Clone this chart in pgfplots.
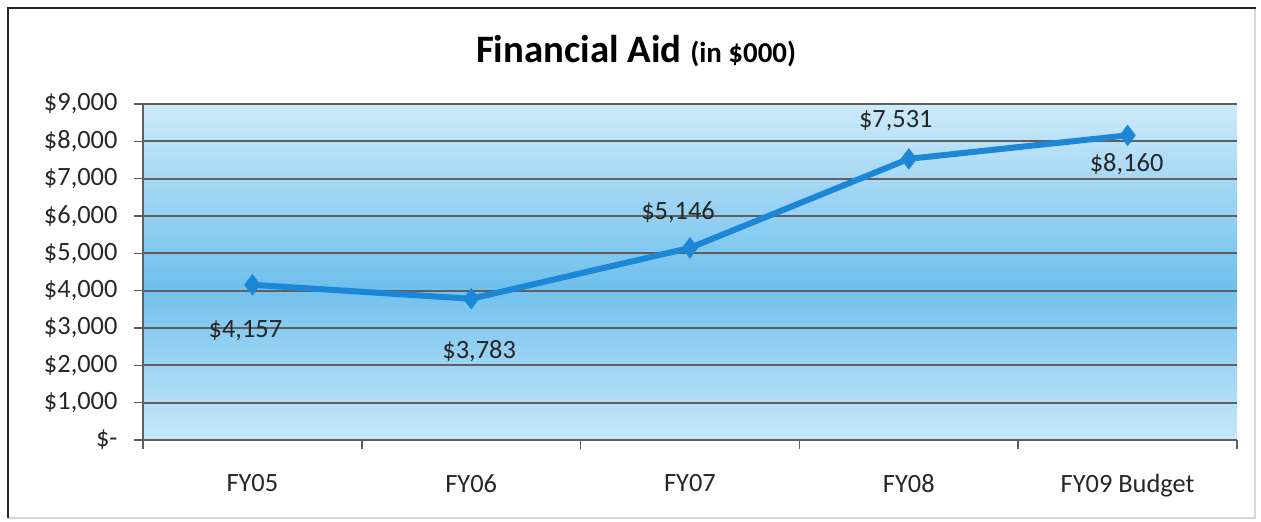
\documentclass[border=0pt]{standalone}
\usepackage{fontspec}
\setmainfont{Carlito}
\usepackage{pgfplots}
\pgfplotsset{compat=1.18}
\usepackage{pgfplotstable}

\definecolor{lineblue}{RGB}{27,135,214}
\definecolor{bgtop}{RGB}{205,234,250}
\definecolor{bgmid}{RGB}{112,192,236}
\definecolor{bgbot}{RGB}{200,232,249}
\definecolor{gridgray}{RGB}{95,95,95}
\definecolor{framegray}{RGB}{215,215,215}

% plot-area background: light at top and bottom, deeper blue in the middle
\pgfdeclareverticalshading{aidbg}{100bp}{
  color(0bp)=(bgbot); color(25bp)=(bgbot);
  color(48bp)=(bgmid);
  color(75bp)=(bgtop); color(100bp)=(bgtop)}

% financial aid by fiscal year (in $000); dx/dy place each value label
\pgfplotstableread{
x y dx dy
0 4157 -7 -46
1 3783 8 -52
2 5146 -12 36
3 7531 -13 38
4 8160 -1 -29
}\aiddata

\newcommand{\lbl}{\fontsize{26.5}{31}\selectfont}

\begin{document}
\begin{tikzpicture}
\useasboundingbox (0,0) rectangle (1261bp,522bp);
% outer frame
\draw[framegray, line width=1.5bp] (1255bp,514bp) -- (1255bp,4bp) -- (8bp,4bp);
\draw[black!85, line width=2.5bp] (8bp,4bp) -- (8bp,514bp) -- (1256bp,514bp);

\node[anchor=base] at (636bp,459bp)
  {\fontsize{39}{46}\selectfont\bfseries Financial Aid {\fontsize{29}{35}\selectfont (in \$000)}};

\begin{axis}[
  at={(143bp,82bp)}, anchor=south west,
  scale only axis, width=1094bp, height=336bp,
  xmin=-0.5, xmax=4.5, ymin=0, ymax=9000,
  axis x line*=bottom, axis y line*=left,
  axis line style={gridgray, line width=1.5bp, -},
  axis background/.style={shading=aidbg},
  xtick={-0.5,0.5,...,4.5},
  x tick label as interval,
  xticklabels={FY05,FY06,FY07,FY08,FY09 Budget},
  ytick={0,1000,...,9000},
  yticklabels={{\$-},{\$1,000},{\$2,000},{\$3,000},{\$4,000},{\$5,000},{\$6,000},{\$7,000},{\$8,000},{\$9,000}},
  tick align=outside,
  major tick length=9bp,
  tick style={gridgray, line width=1.5bp},
  ymajorgrids,
  grid style={gridgray, line width=2bp},
  ticklabel style={font=\lbl, text=black!85},
  xticklabel style={yshift=-22bp},
  yticklabel style={xshift=-13bp},
  /pgf/number format/.cd, 1000 sep={,}, assume math mode=true,
]
\addplot[
  lineblue, line width=6bp, mark=diamond*, mark size=10bp,
  mark options={solid, line width=1bp},
  visualization depends on={\thisrow{dx} \as \dx},
  visualization depends on={\thisrow{dy} \as \dy},
  nodes near coords={\$\pgfmathprintnumber{\pgfplotspointmeta}},
  nodes near coords style={anchor=center, font=\lbl, text=black!85,
    xshift=\dx bp, yshift=\dy bp},
] table[x=x, y=y] {\aiddata};
\end{axis}
\end{tikzpicture}
\end{document}
